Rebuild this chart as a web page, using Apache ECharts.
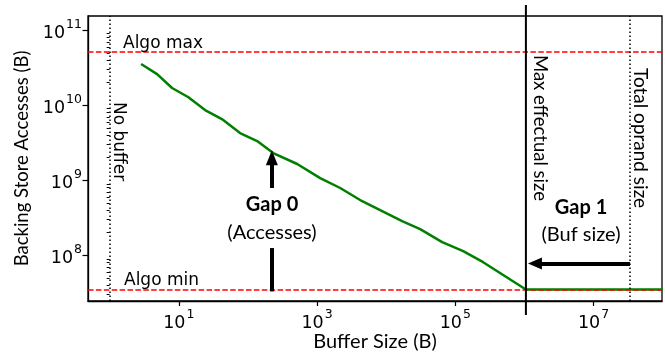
<!DOCTYPE html>
<html><head><meta charset="utf-8">
<script src="https://cdn.jsdelivr.net/npm/echarts@6/dist/echarts.min.js"></script>
<style>html,body{margin:0;padding:0;background:#fff}#c{width:665px;height:354px}</style>
</head><body><div id="c"></div>
<script>
// ---- data ----
const bufferSizes = [2.85, 4.85, 8.0, 13.6, 24, 42, 77, 136, 232, 516, 1110, 2160, 4200, 8180, 17000, 31000, 64600, 130000, 253000, 1.05e6, 1e8];
const accesses    = [3.56e10, 2.61e10, 1.70e10, 1.29e10, 8.64e9, 6.56e9, 4.27e9, 3.34e9, 2.31e9, 1.65e9, 1.07e9, 7.9e8, 5.46e8, 4.0e8, 2.86e8, 2.24e8, 1.5e8, 1.14e8, 8.1e7, 3.5e7, 3.5e7];
const algoMax = 5.2e10;
const algoMin = 3.5e7;
const noBuffer = 1;
const maxEffectual = 1.05e6;
const totalOprand = 3.36e7;
const xTickExponents = [1, 3, 5, 7];
const yTickExponents = [8, 9, 10, 11];
const xRange = [0.486, 9.77e7];
const yRange = [2.46e7, 1.552e11];
const gap0X = 222;
const gap0Lower = [3.3e7, 1.25e8];
const gap0Upper = [7.9e8, 2.0e9];
const gap1Y = 7.8e7;
const gap1Span = [totalOprand, 1.42e6];

const L = Math.log10;
const yMinorTicks = [];
for (let e = 7; e <= 11; e++) for (let k = 2; k <= 9; k++) {
  const v = L(k * Math.pow(10, e));
  if (v > L(yRange[0]) && v < L(yRange[1])) yMinorTicks.push(v);
}

const chart = echarts.init(document.getElementById('c'), null, {renderer: 'canvas'});
const TICKFONT = 'DejaVu Sans';
const NAMEFONT = 'Lato';
const rich = {
  b: {fontFamily: TICKFONT, fontSize: 17.5, color: '#000', verticalAlign: 'bottom', lineHeight: 24},
  s: {fontFamily: TICKFONT, fontSize: 12.5, color: '#000', verticalAlign: 'top', lineHeight: 13, padding: [0, 0, 0, 1]}
};
const expFmt = v => '{b|10}{s|' + Math.round(v) + '}';
const gridBox = {left: 88, top: 16, right: 3, bottom: 53, containLabel: false, outerBoundsMode: 'none'};

const redDash = {color: '#ff0000', width: 1.5, type: [5.5, 2.4]};
const dotted = {color: '#000', width: 1.5, type: [1.5, 2.5]};

chart.setOption({
  animation: false,
  grid: [
    Object.assign({show: true, borderColor: '#000', borderWidth: 1.3}, gridBox),
    Object.assign({show: false}, gridBox)
  ],
  xAxis: [{
    type: 'value', gridIndex: 0, min: L(xRange[0]), max: L(xRange[1]),
    splitLine: {show: false},
    axisLine: {show: true, onZero: false, lineStyle: {color: '#000', width: 1.3}},
    axisTick: {show: true, length: 5, lineStyle: {color: '#000', width: 1.2}, customValues: xTickExponents},
    axisLabel: {customValues: xTickExponents, formatter: expFmt, rich: rich, margin: 7},
    name: 'Buffer Size (B)', nameLocation: 'middle', nameGap: 31, nameMoveOverlap: false,
    nameTextStyle: {fontFamily: NAMEFONT, fontSize: 20, color: '#000'}
  }, {
    type: 'value', gridIndex: 1, min: L(xRange[0]), max: L(xRange[1]), show: false
  }],
  yAxis: [{
    type: 'value', gridIndex: 0, min: L(yRange[0]), max: L(yRange[1]),
    splitLine: {show: false},
    axisLine: {show: true, onZero: false, lineStyle: {color: '#000', width: 1.3}},
    axisTick: {show: true, length: 5.5, lineStyle: {color: '#000', width: 1.2}, customValues: yTickExponents},
    axisLabel: {customValues: yTickExponents, formatter: expFmt, rich: rich, margin: 6},
    name: 'Backing Store Accesses (B)', nameLocation: 'middle', nameGap: 56, nameMoveOverlap: false,
    nameTextStyle: {fontFamily: NAMEFONT, fontSize: 18.5, color: '#000'}
  }, {
    type: 'value', gridIndex: 1, min: L(yRange[0]), max: L(yRange[1]),
    splitLine: {show: false},
    axisLine: {show: false},
    axisTick: {show: true, length: 3, lineStyle: {color: '#000', width: 1}, customValues: yMinorTicks},
    axisLabel: {show: false}
  }],
  series: [{
    type: 'line', xAxisIndex: 0, yAxisIndex: 0, z: 2,
    data: bufferSizes.map((b, i) => [L(b), L(accesses[i])]),
    symbol: 'none', clip: true,
    lineStyle: {color: '#008000', width: 2.5}
  }, {
    type: 'line', xAxisIndex: 0, yAxisIndex: 0, z: 4, data: [],
    markLine: {
      silent: true, symbol: ['none', 'none'], label: {show: false},
      data: [
        {yAxis: L(algoMax), lineStyle: redDash},
        {yAxis: L(algoMin), lineStyle: redDash},
        {xAxis: L(noBuffer), lineStyle: dotted},
        {xAxis: L(totalOprand), lineStyle: dotted},
        [{coord: [L(gap0X), L(gap0Lower[0])], lineStyle: {color: '#000', width: 4, type: 'solid'}},
         {coord: [L(gap0X), L(gap0Lower[1])]}],
        [{coord: [L(gap0X), L(gap0Upper[0])], lineStyle: {color: '#000', width: 4, type: 'solid'}},
         {coord: [L(gap0X), L(gap0Upper[1])], symbol: 'triangle', symbolSize: [12, 15]}],
        [{coord: [L(gap1Span[0]), L(gap1Y)], lineStyle: {color: '#000', width: 4, type: 'solid'}},
         {coord: [L(gap1Span[1]), L(gap1Y)], symbol: 'triangle', symbolSize: [12, 14]}]
      ]
    }
  }]
});

const px = chart.convertToPixel({xAxisIndex: 0}, L(maxEffectual));
const gTop = gridBox.top, gBot = 354 - gridBox.bottom;
const txt = (t, x, y, o) => Object.assign({type: 'text', x: x, y: y, z: 10, silent: true,
  style: Object.assign({text: t, fill: '#000', fontFamily: 'DejaVu Sans', fontSize: 17, align: 'left', verticalAlign: 'middle'}, o || {})});
const rot = (t, x, y, o) => Object.assign(txt(t, x, y, o), {rotation: -Math.PI / 2});
chart.setOption({
  graphic: [
    {type: 'line', z: 9, silent: true, shape: {x1: px, y1: gTop - 11, x2: px, y2: gBot + 14}, style: {stroke: '#000', lineWidth: 2}},
    txt('Algo max', 123, 43.5),
    txt('Algo min', 124, 281),
    rot('No buffer', 118, 102),
    rot('Max effectual size', 540, 55, {fontFamily: NAMEFONT, fontSize: 18.5}),
    rot('Total oprand size', 640, 68, {fontFamily: NAMEFONT, fontSize: 19}),
    txt('Gap 0', 272, 205, {fontFamily: NAMEFONT, fontSize: 20, fontWeight: 'bold', align: 'center'}),
    txt('(Accesses)', 272, 233, {fontFamily: NAMEFONT, fontSize: 20, align: 'center'}),
    txt('Gap 1', 581, 208, {fontFamily: NAMEFONT, fontSize: 20, fontWeight: 'bold', align: 'center'}),
    txt('(Buf size)', 581, 235, {fontFamily: NAMEFONT, fontSize: 20, align: 'center'})
  ]
});
</script>
</body></html>
